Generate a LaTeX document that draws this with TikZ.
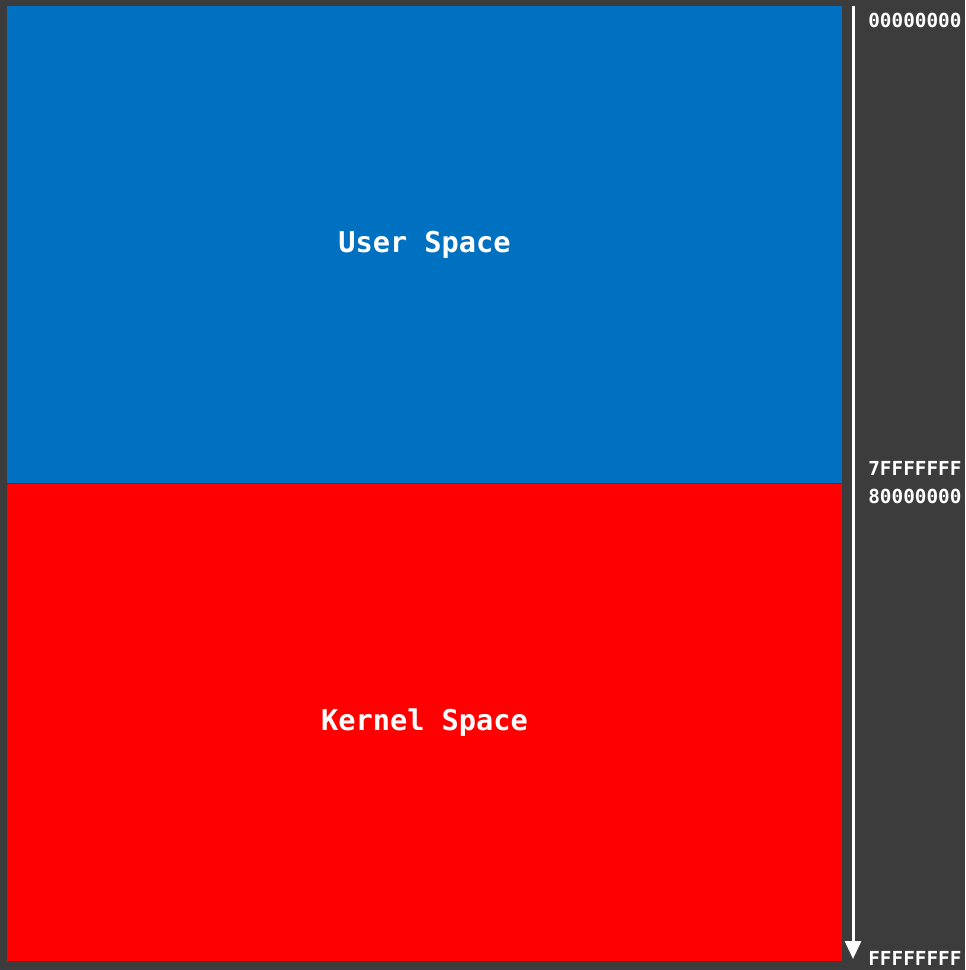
\documentclass[tikz,border=0pt]{standalone}
\usepackage{fontspec}
\usepackage{tikz}
\usetikzlibrary{arrows.meta, positioning}
\newfontfamily\addrfont{DejaVu Sans Mono}
\definecolor{bgdark}{HTML}{3C3C3C}
\definecolor{userblue}{HTML}{0070C0}
\definecolor{kernelred}{HTML}{FF0000}

\begin{document}
\begin{tikzpicture}[
  x=0.02cm, y=-0.02cm,
  region/.style={inner sep=0pt, minimum width=16.7cm, minimum height=9.54cm, text=white, font=\addrfont\bfseries\fontsize{16.3}{19}\selectfont},
  addr/.style={anchor=west, inner sep=0pt, text=white, font=\addrfont\bfseries\fontsize{11}{13}\selectfont},
  addrarrow/.style={-{Triangle[length=0.36cm, width=0.32cm]}, line width=1.7pt, white}
]
  % Background
  \fill[bgdark] (0,0) rectangle (965,970);
  \useasboundingbox (0,0) rectangle (965,970);

  % Address regions
  \node[region, fill=userblue] (user) at (424.5,244.5) {User Space};
  \node[region, fill=kernelred, below=0pt of user] (kernel) {Kernel Space};

  % Address axis
  \coordinate (axtop) at (853,6);
  \coordinate (axbot) at (853,959);
  \draw[addrarrow] (axtop) -- (axbot);

  % Addresses
  \node[addr] (a0) at (868,20) {00000000};
  \node[addr] (a1) at (868,468) {7FFFFFFF};
  \node[addr] (a2) at (868,496) {80000000};
  \node[addr] (a3) at (868,958) {FFFFFFFF};

\end{tikzpicture}
\end{document}
